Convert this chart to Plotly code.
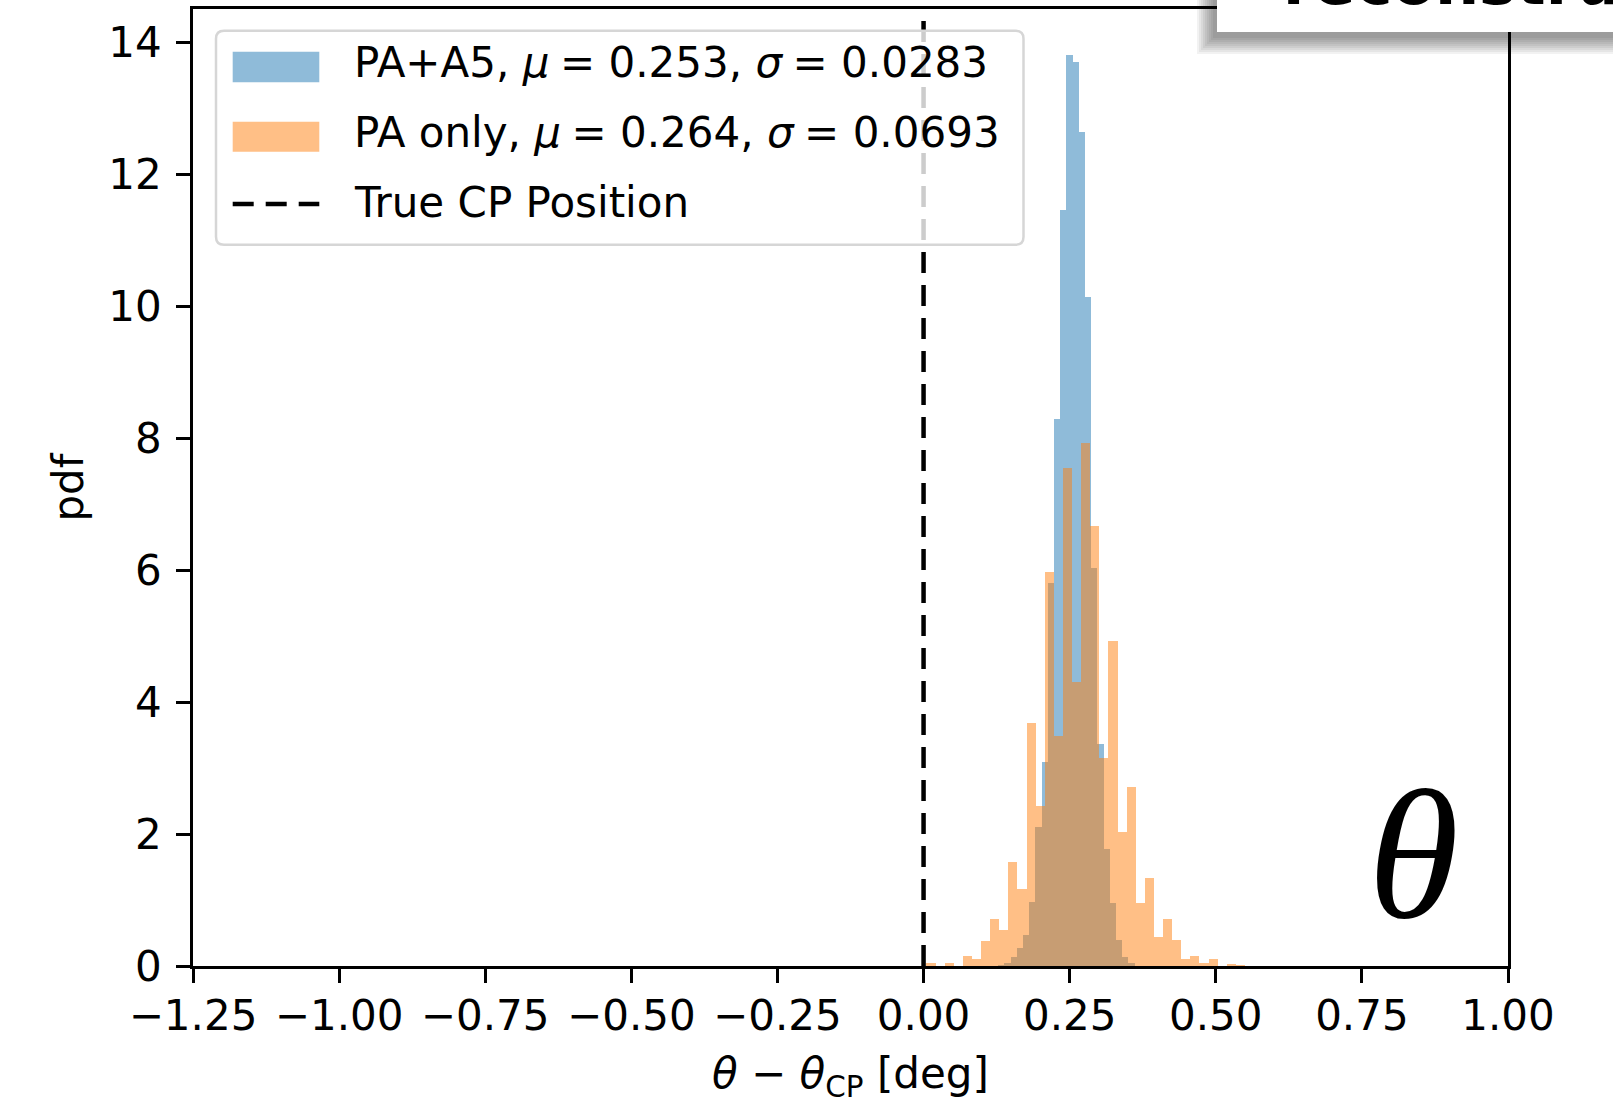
import plotly.graph_objects as go

# ---------------- data ----------------
x_tick_values = [-1.25, -1.0, -0.75, -0.5, -0.25, 0.0, 0.25, 0.5, 0.75, 1.0]
x_tick_labels = ["\u22121.25", "\u22121.00", "\u22120.75", "\u22120.50", "\u22120.25",
                 "0.00", "0.25", "0.50", "0.75", "1.00"]
y_tick_values = [0, 2, 4, 6, 8, 10, 12, 14]
y_tick_labels = ["0", "2", "4", "6", "8", "10", "12", "14"]

# PA+A5 histogram (density), bins of equal width starting at pa_a5_bin_start
pa_a5_bin_start = 0.1278
pa_a5_bin_width = 0.01061
pa_a5_density = [0.02, 0.05, 0.14, 0.27, 0.47, 0.97, 2.11, 3.09, 5.80, 8.30, 11.47,
                 13.81, 13.71, 12.65, 10.15, 6.03, 3.37, 1.77, 0.96, 0.40, 0.14, 0.04]

# PA only histogram (density)
pa_only_bin_start = 0.0050
pa_only_bin_width = 0.01557
pa_only_density = [0.04, 0.0, 0.04, 0.0, 0.156, 0.11, 0.38, 0.71, 0.55, 1.57, 1.16,
                   3.68, 2.43, 5.97, 3.49, 7.55, 4.31, 7.93, 6.67, 3.16, 4.93, 2.03,
                   2.71, 0.96, 1.33, 0.435, 0.72, 0.39, 0.10, 0.156, 0.05, 0.106,
                   0.0, 0.03, 0.02]

true_cp_position = 0.0

SP = "\u2005"
legend_labels = [f"PA+A5, <i>\u03bc</i>{SP}= 0.253, <i>\u03c3</i>{SP}= 0.0283",
                 f"PA only, <i>\u03bc</i>{SP}= 0.264, <i>\u03c3</i>{SP}= 0.0693",
                 "True CP Position"]
x_title = "<i>\u03b8</i> \u2212 <i>\u03b8</i><sub>CP</sub> [deg]"
y_title = "pdf"

x_range = [-1.25, 1.0]
y_range = [0, 14.51]

# ---------------- layout geometry (window pixels) ----------------
W, H = 1613, 1097
L, R, T, B = 193, 1508, 9, 966
FONT = "DejaVu Sans"
FS = 42

BLUE = "rgba(31,119,180,0.5)"
ORANGE = "rgba(255,127,14,0.5)"


def px(xp):
    return (xp - L) / (R - L)


def py(yp):
    return (B - yp) / (B - T)


def centers(start, width, n):
    return [start + width * (i + 0.5) for i in range(n)]


fig = go.Figure()
fig.add_trace(go.Bar(
    x=centers(pa_a5_bin_start, pa_a5_bin_width, len(pa_a5_density)),
    y=pa_a5_density, width=pa_a5_bin_width,
    marker=dict(color=BLUE, line=dict(width=0)), name="PA+A5", showlegend=False))
fig.add_trace(go.Bar(
    x=centers(pa_only_bin_start, pa_only_bin_width, len(pa_only_density)),
    y=pa_only_density, width=pa_only_bin_width,
    marker=dict(color=ORANGE, line=dict(width=0)), name="PA only", showlegend=False))

shapes = []
# true CP position (axvline)
shapes.append(dict(type="line", xref="x", yref="paper", x0=true_cp_position, x1=true_cp_position,
                   y0=0, y1=1, line=dict(color="black", width=4.5, dash="21px,12px"), layer="above"))

# legend frame (rounded)
lx0, lx1, ly0, ly1, rr = 216, 1023.5, 30.7, 244.8, 8
rx, ry = rr / (R - L), rr / (B - T)
X0, X1, Y0, Y1 = px(lx0), px(lx1), py(ly0), py(ly1)
path = (f"M{X0+rx},{Y0} L{X1-rx},{Y0} Q{X1},{Y0} {X1},{Y0-ry} L{X1},{Y1+ry} "
        f"Q{X1},{Y1} {X1-rx},{Y1} L{X0+rx},{Y1} Q{X0},{Y1} {X0},{Y1+ry} L{X0},{Y0-ry} "
        f"Q{X0},{Y0} {X0+rx},{Y0} Z")
shapes.append(dict(type="path", xref="paper", yref="paper", path=path,
                   fillcolor="rgba(255,255,255,0.8)", line=dict(color="#d6d6d6", width=2.5),
                   layer="above"))
# legend handles
hx0, hx1 = 232.7, 319.3
shapes.append(dict(type="rect", xref="paper", yref="paper", x0=px(hx0), x1=px(hx1),
                   y0=py(51.7), y1=py(82.3), fillcolor=BLUE, line=dict(width=0), layer="above"))
shapes.append(dict(type="rect", xref="paper", yref="paper", x0=px(hx0), x1=px(hx1),
                   y0=py(121.7), y1=py(151.7), fillcolor=ORANGE, line=dict(width=0), layer="above"))
shapes.append(dict(type="line", xref="paper", yref="paper", x0=px(hx0), x1=px(hx1),
                   y0=py(204), y1=py(204), line=dict(color="black", width=4.5, dash="21px,12px"),
                   layer="above"))

# overlay card at top right with soft drop shadow
bx0, by1 = 1217, 32
for k in range(9):
    e = 16 - 2 * k
    shapes.append(dict(type="rect", xref="paper", yref="paper",
                       x0=px(bx0 - 4 - e), x1=px(1700), y0=py(-40), y1=py(by1 + 6 + e),
                       fillcolor="rgba(0,0,0,0.05)", line=dict(width=0), layer="above"))
shapes.append(dict(type="rect", xref="paper", yref="paper", x0=px(bx0), x1=px(1700),
                   y0=py(-40), y1=py(by1), fillcolor="white", line=dict(width=0), layer="above"))

annotations = []
leg_y = [63, 133, 203]
for lab, yy in zip(legend_labels, leg_y):
    annotations.append(dict(xref="paper", yref="paper", x=px(352), y=py(yy), text=lab,
                            showarrow=False, xanchor="left", yanchor="middle",
                            font=dict(family=FONT, size=FS, color="black")))
annotations.append(dict(xref="paper", yref="paper", x=px(1413), y=py(854), text="<i>\u03b8</i>",
                        showarrow=False, xanchor="center", yanchor="middle",
                        font=dict(family="Liberation Serif", size=185, color="black")))
annotations.append(dict(xref="paper", yref="paper", x=px(1281), y=py(21), text="<b>reconstruction</b>",
                        showarrow=False, xanchor="left", yanchor="bottom",
                        font=dict(family=FONT, size=62, color="black")))
# x-axis title (placed like the reference, partly below the window edge)
annotations.append(dict(xref="paper", yref="paper", x=0.5, y=py(1076), text=x_title,
                        showarrow=False, xanchor="center", yanchor="middle",
                        font=dict(family=FONT, size=FS, color="black")))

fig.update_layout(
    width=W, height=H,
    margin=dict(l=L, r=W - R, t=T, b=H - B, pad=0, autoexpand=False),
    paper_bgcolor="white", plot_bgcolor="white",
    barmode="overlay", bargap=0,
    showlegend=False,
    font=dict(family=FONT, size=FS, color="black"),
    shapes=shapes, annotations=annotations,
)
axis_common = dict(showgrid=False, zeroline=False, showline=True, linecolor="black", linewidth=2.7,
                   mirror=True, ticks="outside", ticklen=14, tickwidth=2.7, tickcolor="black",
                   automargin=False,
                   tickfont=dict(family=FONT, size=FS, color="black"))
fig.update_xaxes(range=x_range, tickmode="array", tickvals=x_tick_values, ticktext=x_tick_labels,
                 ticklabelstandoff=-3, **axis_common)
fig.update_yaxes(range=y_range, tickmode="array", tickvals=y_tick_values, ticktext=y_tick_labels,
                 title=dict(text=y_title, font=dict(family=FONT, size=FS), standoff=12),
                 ticklabelstandoff=6, **axis_common)

# remove the default 8px page margin so the figure fills the window exactly
fig.write_html("out.html", config={"displayModeBar": False},
               post_script="document.body.style.margin='0';document.body.style.overflow='hidden';")
